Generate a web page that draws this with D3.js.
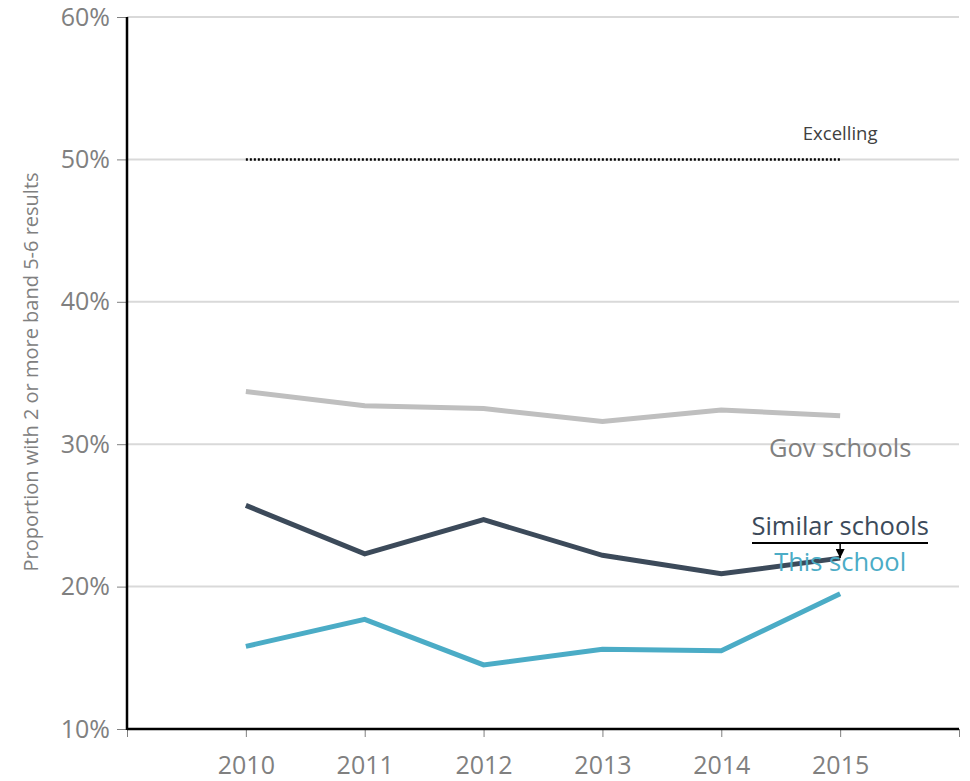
<!DOCTYPE html>
<html>
<head>
<meta charset="utf-8">
<script src="https://cdn.jsdelivr.net/npm/d3@7"></script>
<style>
  body { margin: 0; background: #fff; }
  svg { display: block; font-family: "Open Sans", "Noto Sans", sans-serif; }
  svg text { font-family: "Open Sans", "Noto Sans", sans-serif; }
</style>
</head>
<body>
<svg id="chart" width="970" height="781"></svg>
<script>
// Years shown on the x axis
const years = [2010, 2011, 2012, 2013, 2014, 2015];
// Proportion (%) of students with 2 or more band 5-6 results
const govSchools     = [33.7, 32.7, 32.5, 31.6, 32.4, 32.0];
const similarSchools = [25.7, 22.3, 24.7, 22.2, 20.9, 22.0];
const thisSchool     = [15.8, 17.7, 14.5, 15.6, 15.5, 19.5];
// Excelling benchmark
const excelling = 50;
const yTicks = [10, 20, 30, 40, 50, 60];
const xTickMarks = [2009, 2010, 2011, 2012, 2013, 2014, 2015, 2016];

const svg = d3.select("#chart");
const plotLeft = 127, plotRight = 959, plotTop = 17, plotBottom = 729;
const fontFamily = '"Open Sans", "Noto Sans", sans-serif';

const x = d3.scaleLinear().domain([2009, 2016]).range([plotLeft, plotRight]);
const y = d3.scaleLinear().domain([10, 60]).range([plotBottom, plotTop]);

// gridlines
svg.append("g").selectAll("line").data(yTicks).join("line")
  .attr("x1", plotLeft).attr("x2", plotRight)
  .attr("y1", d => y(d)).attr("y2", d => y(d))
  .attr("stroke", "#d9d9d9").attr("stroke-width", 2);

// y axis
const yAxis = svg.append("g").attr("transform", `translate(${plotLeft},0)`)
  .call(d3.axisLeft(y).tickValues(yTicks).tickFormat(d => d + "%").tickSize(10).tickPadding(7));
yAxis.attr("font-family", fontFamily);
yAxis.select(".domain").remove();
yAxis.selectAll(".tick line").attr("stroke", "#808080").attr("stroke-width", 1);
yAxis.selectAll(".tick text").attr("fill", "#808080").style("font-size", "25px");

// x axis
const xAxis = svg.append("g").attr("transform", `translate(0,${plotBottom})`)
  .call(d3.axisBottom(x).tickValues(xTickMarks)
    .tickFormat(d => years.includes(d) ? String(d) : "").tickSize(8).tickPadding(19));
xAxis.attr("font-family", fontFamily);
xAxis.select(".domain").remove();
xAxis.selectAll(".tick line").attr("stroke", "#808080").attr("stroke-width", 1);
xAxis.selectAll(".tick text").attr("fill", "#808080").style("font-size", "25px");

// axis lines
svg.append("line").attr("x1", plotLeft).attr("x2", plotLeft).attr("y1", plotTop).attr("y2", plotBottom + 1)
  .attr("stroke", "#000").attr("stroke-width", 2.5);
svg.append("line").attr("x1", plotLeft).attr("x2", plotRight).attr("y1", plotBottom).attr("y2", plotBottom)
  .attr("stroke", "#000").attr("stroke-width", 2.5);

// y axis title
svg.append("text")
  .attr("transform", `translate(38,372) rotate(-90)`)
  .attr("text-anchor", "middle").attr("fill", "#808080").style("font-size", "20px")
  .text("Proportion with 2 or more band 5-6 results");

// Excelling benchmark
svg.append("line")
  .attr("x1", x(years[0])).attr("x2", x(years[years.length - 1]))
  .attr("y1", y(excelling)).attr("y2", y(excelling))
  .attr("stroke", "#000").attr("stroke-width", 2.5).attr("stroke-dasharray", "2,2");
svg.append("text").attr("x", x(2015)).attr("y", y(excelling) - 19)
  .attr("text-anchor", "middle").attr("fill", "#404040").style("font-size", "18.5px")
  .text("Excelling");

// series lines
const line = d3.line().x((d, i) => x(years[i])).y(d => y(d));
const series = [
  { values: govSchools, color: "#bfbfbf" },
  { values: similarSchools, color: "#3c4a5a" },
  { values: thisSchool, color: "#4bacc6" }
];
series.forEach(s => {
  svg.append("path").datum(s.values).attr("d", line)
    .attr("fill", "none").attr("stroke", s.color).attr("stroke-width", 5)
    .attr("stroke-linejoin", "miter");
});

// series labels
svg.append("text").attr("x", x(2015)).attr("y", 457)
  .attr("text-anchor", "middle").attr("fill", "#808080").style("font-size", "25.5px")
  .text("Gov schools");
svg.append("text").attr("x", x(2015)).attr("y", 535)
  .attr("text-anchor", "middle").attr("fill", "#3c4a5a").style("font-size", "25.5px")
  .text("Similar schools");
svg.append("text").attr("x", x(2015)).attr("y", 571)
  .attr("text-anchor", "middle").attr("fill", "#4bacc6").style("font-size", "25.5px")
  .text("This school");

// leader line and arrow for "Similar schools"
svg.append("defs").append("marker").attr("id", "arrow")
  .attr("viewBox", "0 0 10 10").attr("refX", 10).attr("refY", 5)
  .attr("markerUnits", "userSpaceOnUse")
  .attr("markerWidth", 9).attr("markerHeight", 9).attr("orient", "auto")
  .append("path").attr("d", "M0,0 L10,5 L0,10 Z").attr("fill", "#000");
svg.append("line").attr("x1", 752).attr("x2", 928).attr("y1", 543).attr("y2", 543)
  .attr("stroke", "#000").attr("stroke-width", 2);
svg.append("line").attr("x1", x(2015)).attr("x2", x(2015)).attr("y1", 543).attr("y2", y(similarSchools[5]))
  .attr("stroke", "#000").attr("stroke-width", 1.5).attr("marker-end", "url(#arrow)");
</script>
</body>
</html>
